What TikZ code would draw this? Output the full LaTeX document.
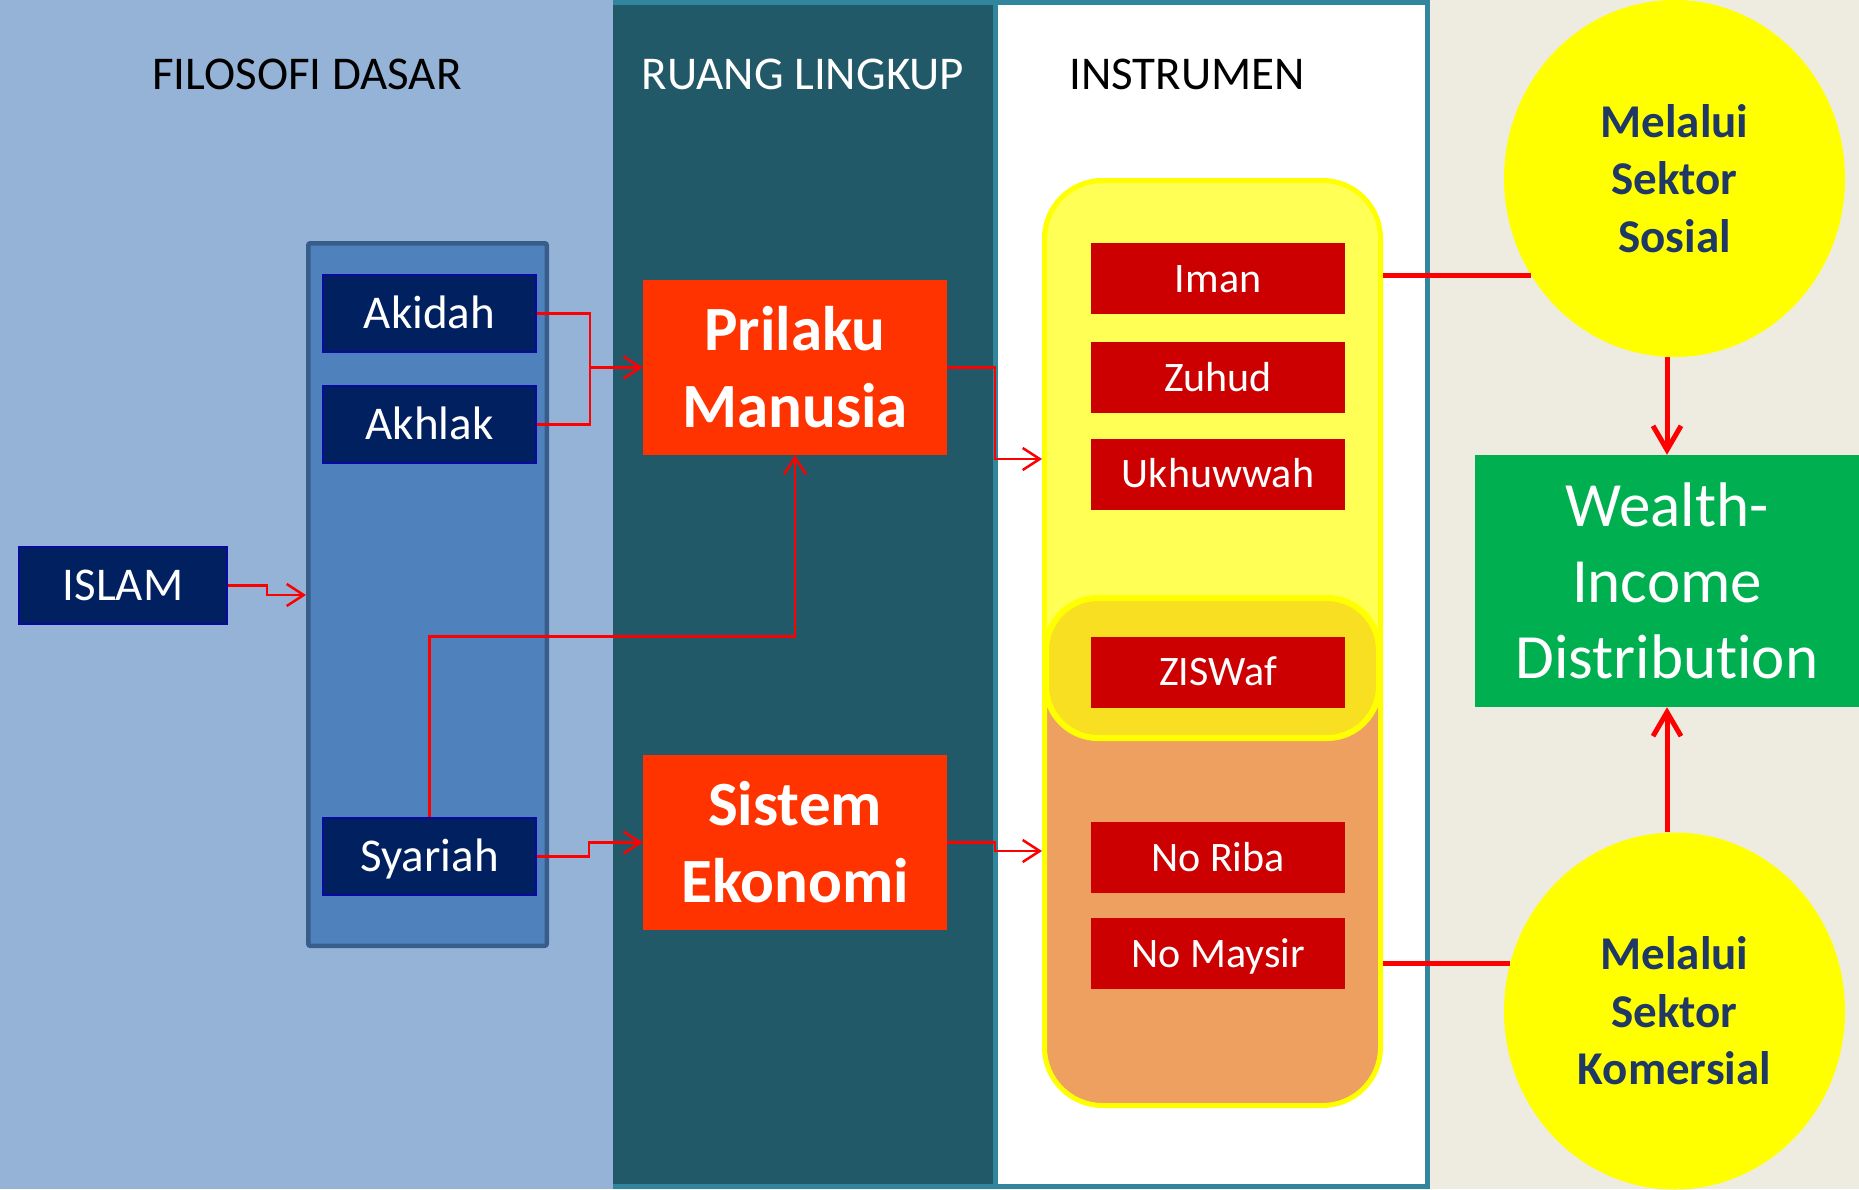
\documentclass[tikz,border=0pt]{standalone}
\usepackage{fontspec}
\setmainfont{Carlito}[Ligatures=NoCommon]
\usetikzlibrary{arrows.meta,shapes.geometric}

\definecolor{paleblue}{HTML}{95B3D7}
\definecolor{tealbg}{HTML}{215968}
\definecolor{tealline}{HTML}{31859C}
\definecolor{beige}{HTML}{EEECE1}
\definecolor{midblue}{HTML}{4F81BD}
\definecolor{midblueline}{HTML}{385D8A}
\definecolor{navy}{HTML}{002060}
\definecolor{navyline}{HTML}{0A0AA0}
\definecolor{flame}{HTML}{FF3300}
\definecolor{crimson}{HTML}{CC0000}
\definecolor{paleyellow}{HTML}{FFFF55}
\definecolor{goldfill}{HTML}{F9DF22}
\definecolor{apricot}{HTML}{EDA060}
\definecolor{leaf}{HTML}{00B050}
\definecolor{inkblue}{HTML}{1F3864}
\definecolor{pureyellow}{HTML}{FFFF00}
\definecolor{purered}{HTML}{FF0000}

\begin{document}
\begin{tikzpicture}[x=1pt,y=-1pt,
  header/.style={anchor=base,font=\fontsize{47}{56}\selectfont},
  navybox/.style={draw=navyline,line width=2pt,fill=navy,text=white,
    minimum width=213pt,minimum height=77pt,inner sep=0pt,
    font=\fontsize{47}{56}\selectfont,text height=30pt,text depth=0pt},
  flamebox/.style={fill=flame,text=white,minimum width=304pt,minimum height=175pt,
    inner sep=0pt,align=center,font=\bfseries\fontsize{63}{77}\selectfont},
  redbox/.style={fill=crimson,text=white,minimum width=254pt,minimum height=71pt,
    inner sep=0pt,font=\fontsize{42}{50}\selectfont,text height=27pt,text depth=0pt},
  sector/.style={ellipse,fill=pureyellow,minimum width=341pt,minimum height=357pt,
    inner sep=0pt,align=center,text=inkblue,font=\bfseries\fontsize{47}{57.5}\selectfont},
  thinlink/.style={draw=purered,line width=2.5pt},
  thinarrow/.style={thinlink,-{Straight Barb[length=17pt,width=22pt]}},
  thicklink/.style={draw=purered,line width=5pt},
  thickarrow/.style={thicklink,-{Straight Barb[length=24pt,width=28pt]}},
]
\useasboundingbox (0,0) rectangle (1859,1189);

% column backgrounds
\fill[paleblue] (0,0) rectangle (613,1189);
\fill[tealbg] (613,0) rectangle (995,1189);
\fill[white] (995,0) rectangle (1427,1189);
\fill[beige] (1427,0) rectangle (1859,1189);
\draw[tealline,line width=5pt] (613,2.5) -- (1427,2.5) -- (1427,1186.5) -- (613,1186.5);
\draw[tealline,line width=5pt] (995.5,0) -- (995.5,1189);

% column headings
\node[header] (hfil) at (307,89) {FILOSOFI DASAR};
\node[header,text=white] (hrua) at (803,89) {RUANG LINGKUP};
\node[header] (hins) at (1187,89) {INSTRUMEN};

% basic philosophy
\node[draw=midblueline,line width=4.5pt,fill=midblue,rounded corners=2pt,
  minimum width=238.5pt,minimum height=702.5pt,inner sep=0pt] (bluebox) at (427.5,594.5) {};
\node[navybox,minimum width=208pt] (islam) at (123,585.5) {ISLAM};
\node[navybox] (akidah) at (429.5,313.5) {Akidah};
\node[navybox] (akhlak) at (429.5,424.5) {Akhlak};
\node[navybox] (syariah) at (429.5,856.5) {Syariah};

% scope
\node[flamebox] (prilaku) at (795,367.5) {Prilaku\\Manusia};
\node[flamebox] (sistem) at (795,842.5) {Sistem\\Ekonomi};

% instruments: yellow upper part, orange lower part
\node[draw=pureyellow,line width=5pt,fill=paleyellow,rounded corners=58pt,
  minimum width=336pt,minimum height=925pt,inner sep=0pt,
  path picture={\fill[apricot] (path picture bounding box.south west)
    rectangle (path picture bounding box.east |- 0,25);}] (instr) at (1212.5,643) {};
\node[draw=pureyellow,line width=6pt,fill=goldfill,rounded corners=52pt,
  minimum width=333pt,minimum height=140pt,inner sep=0pt] (zisbox) at (1212.5,668) {};
\node[redbox] (iman) at (1218,278.5) {Iman};
\node[redbox] (zuhud) at (1218,377.5) {Zuhud};
\node[redbox] (ukhuwwah) at (1218,474) {Ukhuwwah};
\node[redbox] (ziswaf) at (1218,672) {ZISWaf};
\node[redbox] (noriba) at (1218,857.5) {No Riba};
\node[redbox] (nomaysir) at (1218,953.5) {No Maysir};

% outcome
\node[sector] (sosial) at (1674.5,178.5) {Melalui\\Sektor\\Sosial};
\node[sector] (komersial) at (1674.5,1011) {Melalui\\Sektor\\Komersial};
\node[fill=leaf,text=white,minimum width=384pt,minimum height=252pt,inner sep=0pt,
  align=center,font=\fontsize{63}{76}\selectfont] (wid) at (1667,581) {Wealth-\\Income\\Distribution};

% thin connectors
\coordinate (merge) at (590,0 |- prilaku.west);
\draw[thinarrow] (islam.east) -- ++(39,0) |- (bluebox.west |- 0,595);
\draw[thinlink] (akidah.east) -| (merge);
\draw[thinlink] (akhlak.east) -| (merge);
\draw[thinarrow] (merge) -- (prilaku.west);
\draw[thinarrow] (syariah.north) -- ++(0,-180.5) -| (prilaku.south);
\draw[thinarrow] (syariah.east) -- ++(52,0) |- (sistem.west);
\draw[thinarrow] (prilaku.east) -- ++(48,0) |- (instr.west |- 0,459);
\draw[thinarrow] (sistem.east) -- ++(48,0) |- (instr.west |- 0,851);

% thick connectors
\draw[thicklink] (instr.east |- sosial.214) -- (sosial.214);
\draw[thicklink] (instr.east |- komersial.164) -- (komersial.164);
\draw[thickarrow] (wid.north |- sosial.south) -- (wid.north);
\draw[thickarrow] (wid.south |- komersial.north) -- (wid.south);
\end{tikzpicture}
\end{document}
